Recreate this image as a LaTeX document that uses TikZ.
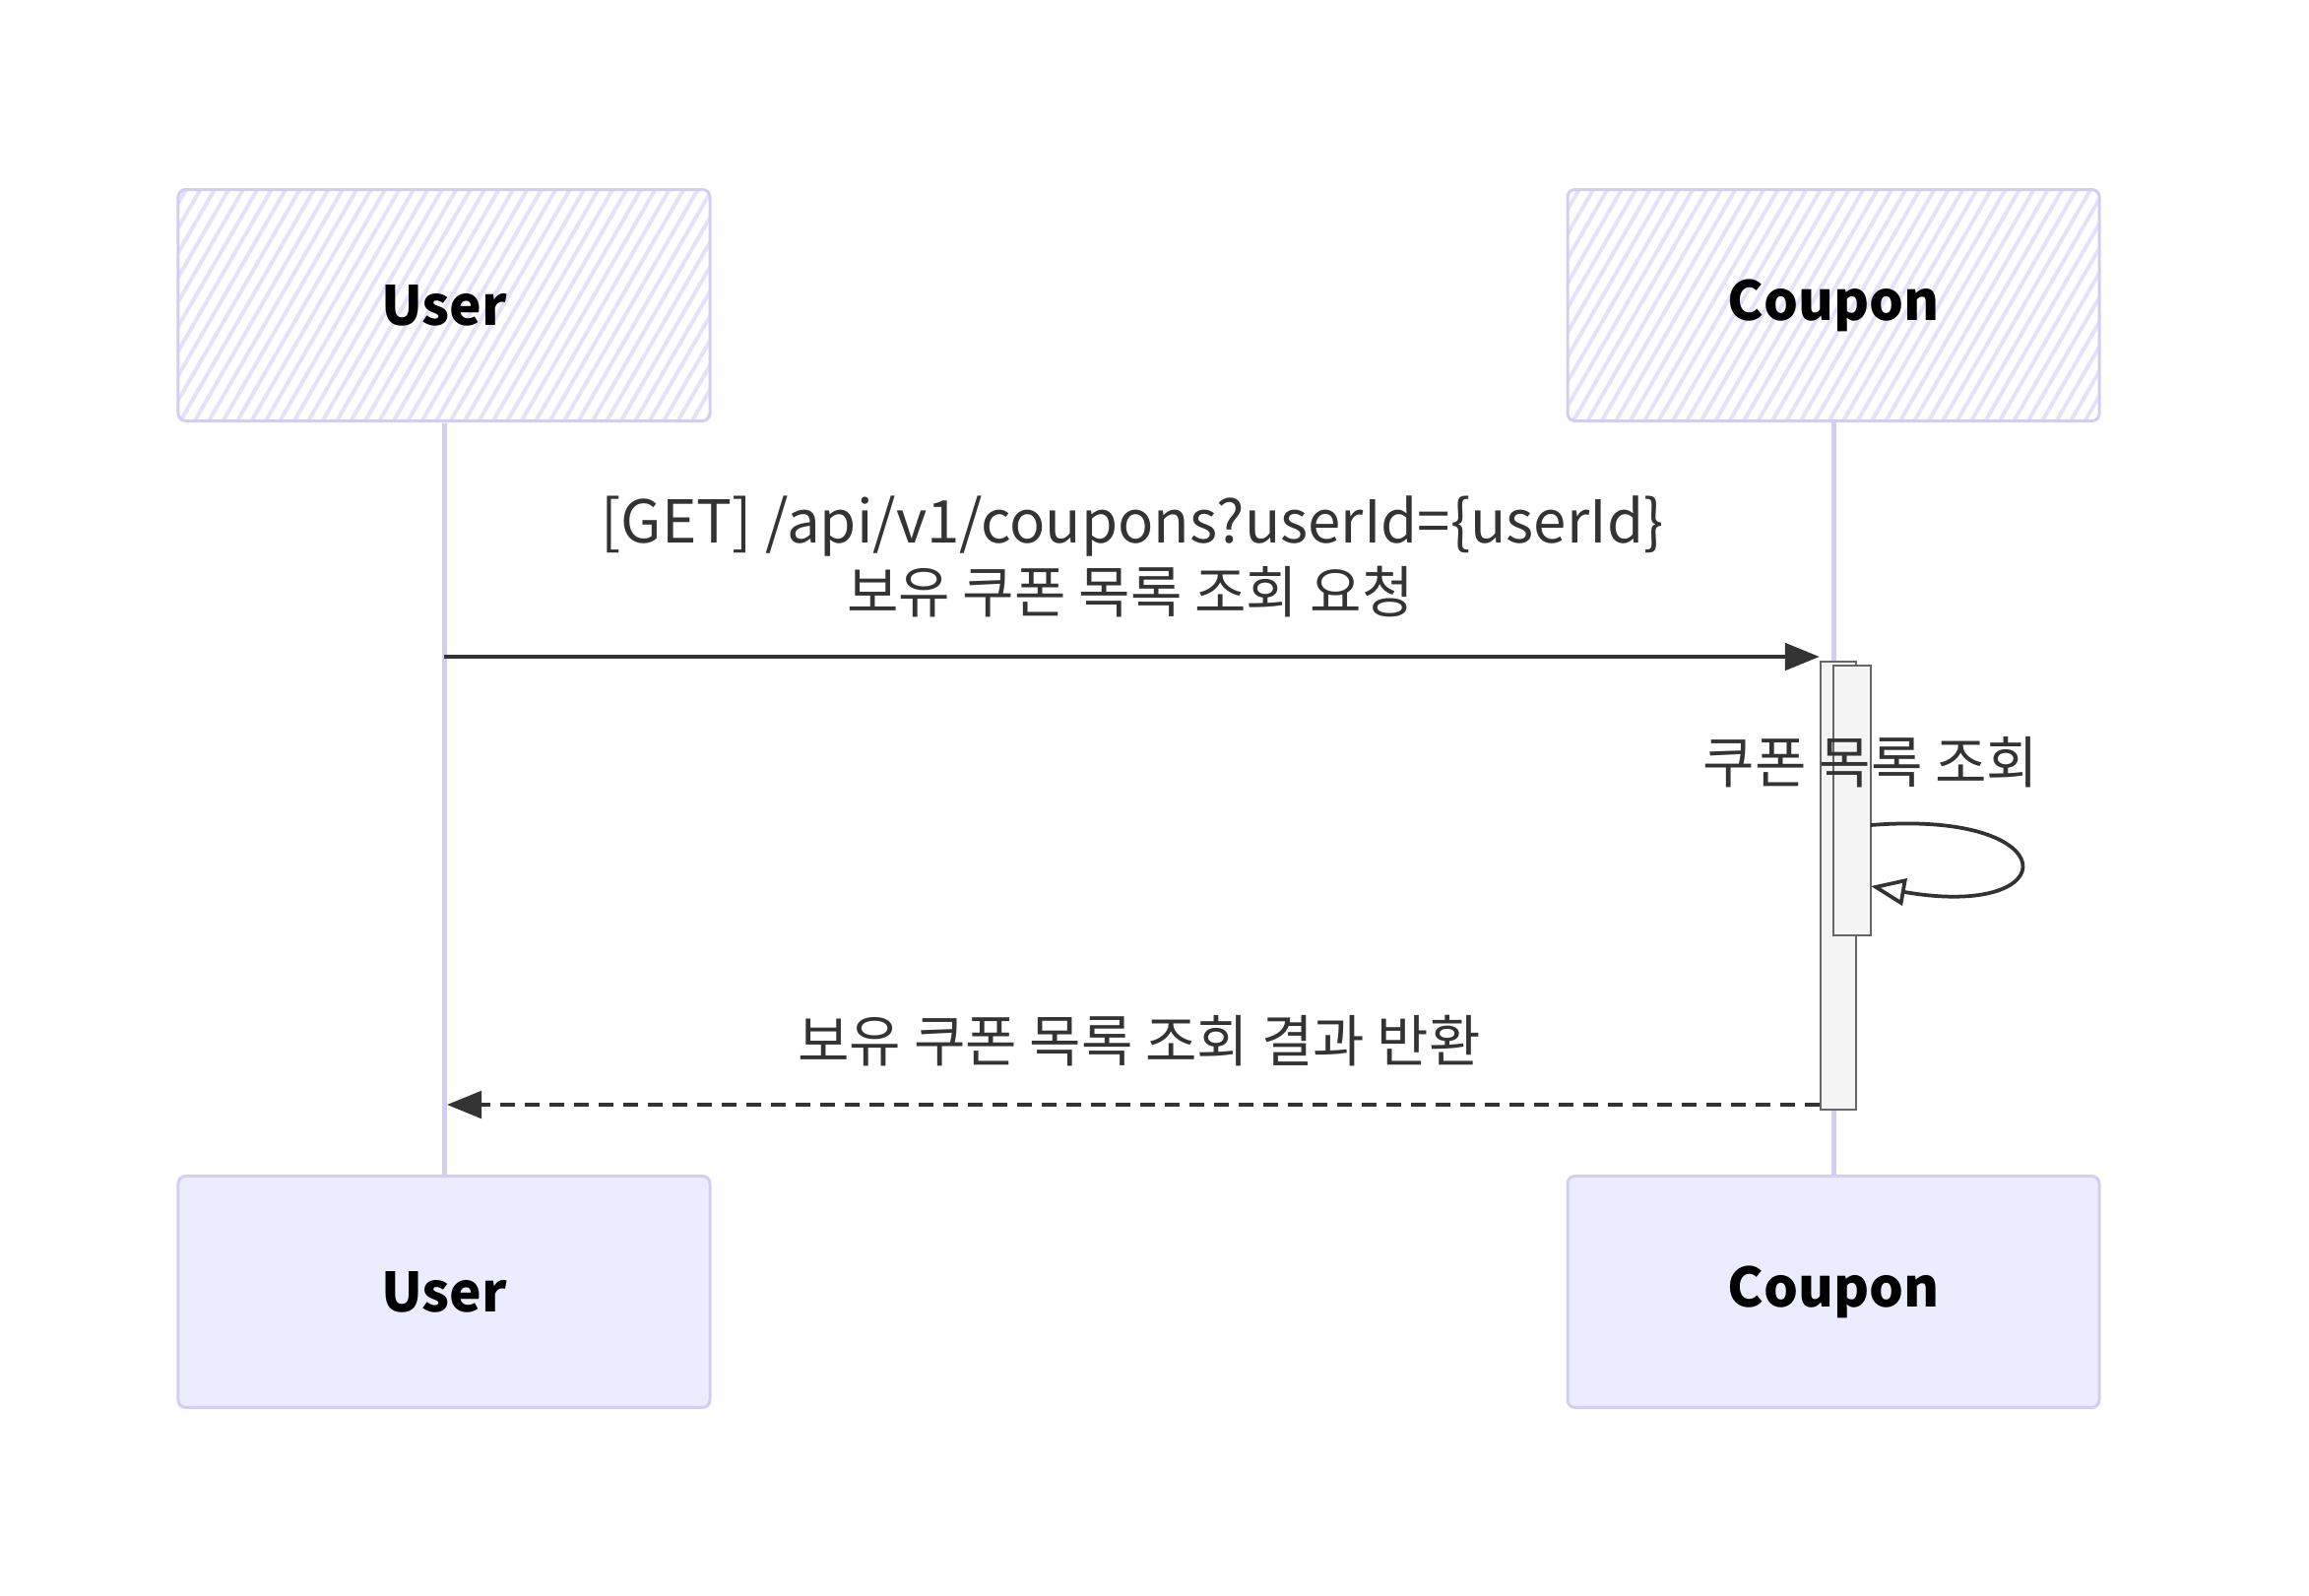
\documentclass[tikz,border=0pt]{standalone}
\usepackage{fontspec}
\setmainfont{Noto Sans CJK KR}
\usetikzlibrary{arrows.meta,patterns.meta}
\definecolor{actorline}{HTML}{D5CCF2}
\definecolor{actorfill}{HTML}{ECECFF}
\definecolor{hatch}{HTML}{E4E2FB}
\definecolor{msgline}{HTML}{333333}
\definecolor{actline}{HTML}{666666}
\definecolor{actfill}{HTML}{F4F4F4}

\tikzstyle{actor} = [draw=actorline, line width=1.2pt, rounded corners=3pt,
    minimum width=216pt, minimum height=94pt,
    font=\fontsize{22}{26}\selectfont\bfseries]
\tikzstyle{actortop} = [actor, pattern={Lines[angle=60,distance=5pt,line width=1.6pt]},
    pattern color=hatch]
\tikzstyle{actorbot} = [actor, fill=actorfill]
\tikzstyle{lifeline} = [draw=actorline, line width=2pt]
\tikzstyle{activation} = [draw=actline, fill=actfill, line width=1pt,
    inner sep=0pt, minimum width=14.4pt]
\tikzstyle{msg} = [draw=msgline, line width=1.5pt]
\tikzstyle{msglabel} = [text=msgline, font=\fontsize{22.8}{26}\selectfont]

\begin{document}
\begin{tikzpicture}[x=0.4pt, y=-0.4pt, >={Triangle[length=14pt,width=11pt]}]
    \useasboundingbox (0,0) rectangle (2345,1620);
    \node [actortop] (usertop) at (451,310) {User};
    \node [actortop] (coupontop) at (1862,310) {Coupon};
    \node [actorbot] (userbot) at (451,1312) {User};
    \node [actorbot] (couponbot) at (1862,1312) {Coupon};
    % lifelines
    \draw [lifeline] (usertop) -- (userbot);
    \draw [lifeline] (coupontop) -- (couponbot);
    % activations
    \node [activation, minimum height=182pt] (act) at (1867,899.5) {};
    \node [activation, minimum width=15.2pt, minimum height=109.6pt] (selfact) at (1881,813) {};
    % request
    \coordinate (reqstart) at (451,667);
    \draw [msg,->] (reqstart) -- (act.north west |- reqstart);
    \node [msglabel, font=\fontsize{24}{28}\selectfont] (reqlbl1) at (1150,534) {[GET] /api/v1/coupons?userId=\{userId\}};
    \node [msglabel] (reqlbl2) at (1148,601) {보유 쿠폰 목록 조회 요청};
    % self call
    \coordinate (selfout) at (1900,838);
    \coordinate (selfin) at (1900,900);
    \draw [msg,-{Triangle[open,length=14pt,width=11pt]}] (selfout) .. controls (2100,822) and (2100,935) .. (selfin);
    \node [msglabel] (selflbl) at (1900,774) {쿠폰 목록 조회};
    % response
    \coordinate (retend) at (454,1122);
    \draw [msg,dashed,dash pattern=on 6pt off 4pt,->] (act.west |- retend) -- (retend);
    \node [msglabel] (retlbl) at (1157,1057) {보유 쿠폰 목록 조회 결과 반환};
\end{tikzpicture}
\end{document}
